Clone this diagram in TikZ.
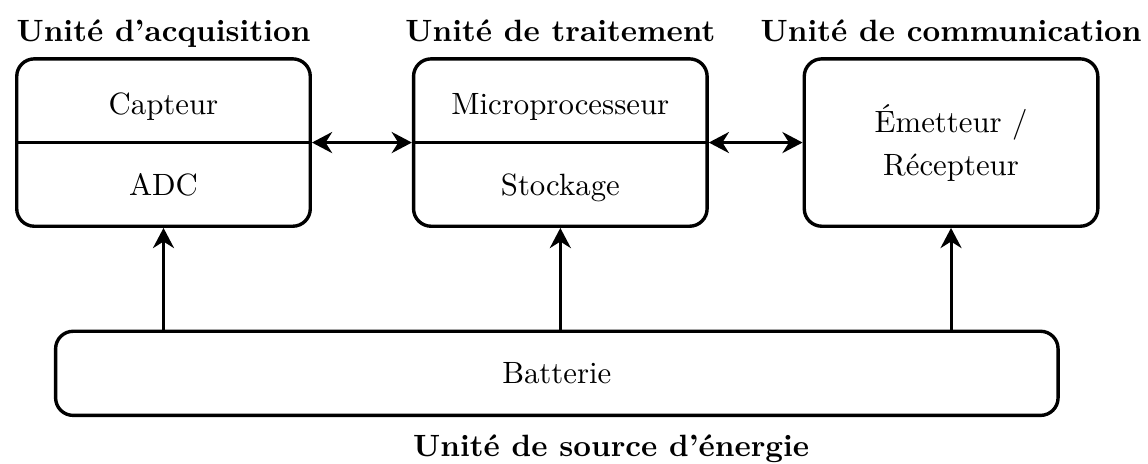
\documentclass[tikz,border=0pt]{standalone}
\usepackage{tikz}
\usetikzlibrary{positioning,arrows.meta}

\begin{document}
\begin{tikzpicture}[
    unit/.style={draw, line width=1.1pt, rounded corners=2mm, align=center, minimum width=3.35cm, minimum height=1.91cm},
    power/.style={draw, line width=1.1pt, rounded corners=2mm, minimum width=11.44cm, minimum height=0.96cm},
    title/.style={font=\bfseries, anchor=base},
    part/.style={anchor=base},
    line/.style={-{Stealth[length=2.3mm, width=2.4mm]}, line width=1pt},
    dline/.style={{Stealth[length=2.3mm, width=2.4mm]}-{Stealth[length=2.3mm, width=2.4mm]}, line width=1pt}
]
\useasboundingbox (0,0) rectangle (13.101,5.284);

\node[unit] (acq) at (1.866,3.657) {};
\node[unit, right=1.14cm of acq] (trt) {};
\node[unit, right=1.07cm of trt] (com) {Émetteur /\\[2pt] Récepteur};
\node[power, below=1.16cm of trt, xshift=-0.4mm] (bat) {Batterie};

\draw[line width=1pt] (acq.west) -- (acq.east);
\draw[line width=1pt] (trt.west) -- (trt.east);
\node[part] (capt) at ([yshift=3.2mm]acq.center) {Capteur};
\node[part] (adc) at ([yshift=-6mm]acq.center) {ADC};
\node[part] (cpu) at ([yshift=3.2mm]trt.center) {Microprocesseur};
\node[part] (stock) at ([yshift=-6mm]trt.center) {Stockage};

\node[title] (tacq) at ([yshift=1.8mm]acq.north) {Unité d’acquisition};
\node[title] (ttrt) at ([yshift=1.8mm]trt.north) {Unité de traitement};
\node[title] (tcom) at ([yshift=1.8mm]com.north) {Unité de communication};
\node[title] (tbat) at ([xshift=6.2mm, yshift=-4.45mm]bat.south) {Unité de source d’énergie};

\draw[dline] (acq.east) -- (trt.west);
\draw[dline] (trt.east) -- (com.west);
\draw[line] (bat.north -| acq.south) -- (acq.south);
\draw[line] (bat.north -| trt.south) -- (trt.south);
\draw[line] (bat.north -| com.south) -- (com.south);
\end{tikzpicture}
\end{document}
